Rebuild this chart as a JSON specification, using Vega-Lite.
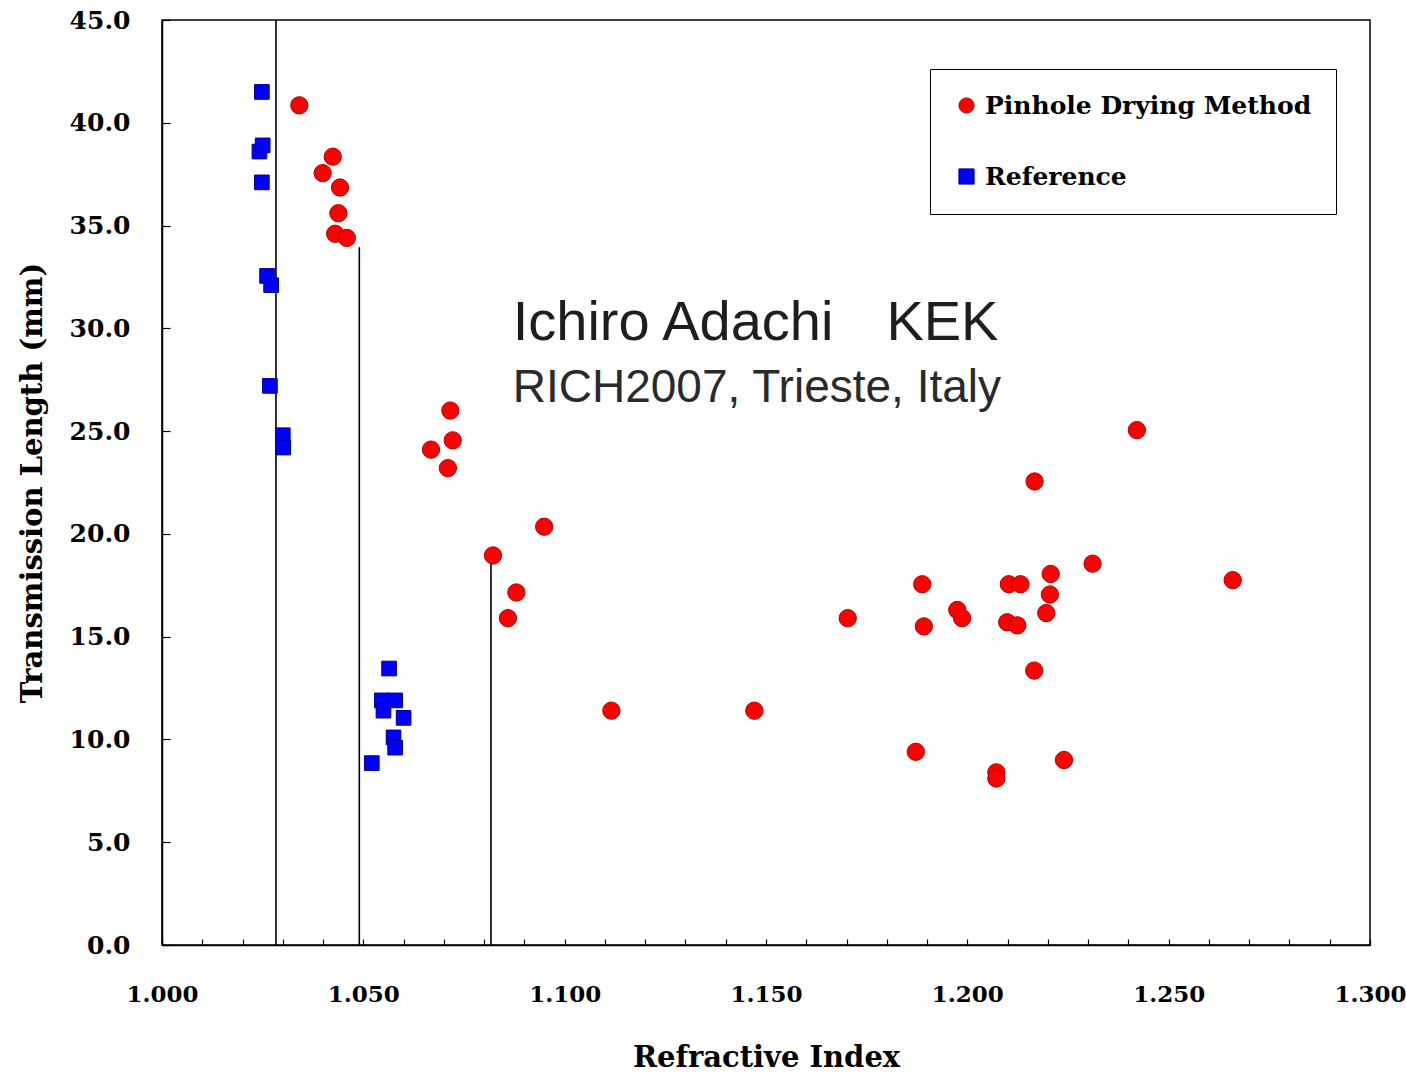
{
  "$schema": "https://vega.github.io/schema/vega-lite/v6.json",
  "width": 1208,
  "height": 925,
  "autosize": "none",
  "padding": {"left": 162, "top": 20, "right": 36, "bottom": 130},
  "background": "#ffffff",
  "config": {
    "view": {"stroke": "#000000", "strokeWidth": 1.5},
    "axis": {"grid": false, "domainColor": "#000000", "domainWidth": 1.5, "tickColor": "#000000", "tickWidth": 1.2, "labelColor": "#000000", "titleColor": "#000000", "labelFont": "DejaVu Serif", "labelFontWeight": "bold", "titleFont": "DejaVu Serif", "titleFontWeight": "bold"}
  },
  "datasets": {
    "points": [
      {"series": "Reference", "ri": 1.0248, "tl": 41.5},
      {"series": "Reference", "ri": 1.0242, "tl": 38.6},
      {"series": "Reference", "ri": 1.0250, "tl": 38.9},
      {"series": "Reference", "ri": 1.0248, "tl": 37.1},
      {"series": "Reference", "ri": 1.0261, "tl": 32.55},
      {"series": "Reference", "ri": 1.0271, "tl": 32.1},
      {"series": "Reference", "ri": 1.0268, "tl": 27.2},
      {"series": "Reference", "ri": 1.0300, "tl": 24.8},
      {"series": "Reference", "ri": 1.0301, "tl": 24.2},
      {"series": "Reference", "ri": 1.0564, "tl": 13.45},
      {"series": "Reference", "ri": 1.0546, "tl": 11.9},
      {"series": "Reference", "ri": 1.0579, "tl": 11.9},
      {"series": "Reference", "ri": 1.0550, "tl": 11.4},
      {"series": "Reference", "ri": 1.0600, "tl": 11.05},
      {"series": "Reference", "ri": 1.0575, "tl": 10.1},
      {"series": "Reference", "ri": 1.0579, "tl": 9.6},
      {"series": "Reference", "ri": 1.0521, "tl": 8.85},
      {"series": "Pinhole Drying Method", "ri": 1.0341, "tl": 40.85},
      {"series": "Pinhole Drying Method", "ri": 1.0424, "tl": 38.35},
      {"series": "Pinhole Drying Method", "ri": 1.0399, "tl": 37.55},
      {"series": "Pinhole Drying Method", "ri": 1.0442, "tl": 36.85},
      {"series": "Pinhole Drying Method", "ri": 1.0438, "tl": 35.6},
      {"series": "Pinhole Drying Method", "ri": 1.0430, "tl": 34.6},
      {"series": "Pinhole Drying Method", "ri": 1.0459, "tl": 34.4},
      {"series": "Pinhole Drying Method", "ri": 1.0716, "tl": 26.0},
      {"series": "Pinhole Drying Method", "ri": 1.0722, "tl": 24.55},
      {"series": "Pinhole Drying Method", "ri": 1.0668, "tl": 24.1},
      {"series": "Pinhole Drying Method", "ri": 1.0710, "tl": 23.2},
      {"series": "Pinhole Drying Method", "ri": 1.0949, "tl": 20.35},
      {"series": "Pinhole Drying Method", "ri": 1.0822, "tl": 18.95},
      {"series": "Pinhole Drying Method", "ri": 1.0880, "tl": 17.15},
      {"series": "Pinhole Drying Method", "ri": 1.0859, "tl": 15.9},
      {"series": "Pinhole Drying Method", "ri": 1.1116, "tl": 11.4},
      {"series": "Pinhole Drying Method", "ri": 1.1471, "tl": 11.4},
      {"series": "Pinhole Drying Method", "ri": 1.2421, "tl": 25.05},
      {"series": "Pinhole Drying Method", "ri": 1.2167, "tl": 22.55},
      {"series": "Pinhole Drying Method", "ri": 1.2311, "tl": 18.55},
      {"series": "Pinhole Drying Method", "ri": 1.2659, "tl": 17.75},
      {"series": "Pinhole Drying Method", "ri": 1.1888, "tl": 17.55},
      {"series": "Pinhole Drying Method", "ri": 1.2207, "tl": 18.05},
      {"series": "Pinhole Drying Method", "ri": 1.2103, "tl": 17.55},
      {"series": "Pinhole Drying Method", "ri": 1.2132, "tl": 17.55},
      {"series": "Pinhole Drying Method", "ri": 1.2205, "tl": 17.05},
      {"series": "Pinhole Drying Method", "ri": 1.1703, "tl": 15.9},
      {"series": "Pinhole Drying Method", "ri": 1.1892, "tl": 15.5},
      {"series": "Pinhole Drying Method", "ri": 1.1975, "tl": 16.3},
      {"series": "Pinhole Drying Method", "ri": 1.1987, "tl": 15.9},
      {"series": "Pinhole Drying Method", "ri": 1.2099, "tl": 15.7},
      {"series": "Pinhole Drying Method", "ri": 1.2124, "tl": 15.55},
      {"series": "Pinhole Drying Method", "ri": 1.2196, "tl": 16.15},
      {"series": "Pinhole Drying Method", "ri": 1.2166, "tl": 13.35},
      {"series": "Pinhole Drying Method", "ri": 1.1872, "tl": 9.4},
      {"series": "Pinhole Drying Method", "ri": 1.2072, "tl": 8.4},
      {"series": "Pinhole Drying Method", "ri": 1.2072, "tl": 8.1},
      {"series": "Pinhole Drying Method", "ri": 1.2240, "tl": 9.0}
    ]
  },
  "layer": [
    {
      "data": {"values": [
        {"ri": 1.0283, "top": 45},
        {"ri": 1.0490, "top": 33.95},
        {"ri": 1.0817, "top": 18.7}
      ]},
      "mark": {"type": "rule", "color": "#000000", "strokeWidth": 1.6},
      "encoding": {
        "x": {
          "field": "ri", "type": "quantitative",
          "scale": {"domain": [1.0, 1.3], "nice": false, "zero": false},
          "axis": {
            "title": "Refractive Index",
            "values": [1.0, 1.01, 1.02, 1.03, 1.04, 1.05, 1.06, 1.07, 1.08, 1.09, 1.1, 1.11, 1.12, 1.13, 1.14, 1.15, 1.16, 1.17, 1.18, 1.19, 1.2, 1.21, 1.22, 1.23, 1.24, 1.25, 1.26, 1.27, 1.28, 1.29, 1.3],
            "labelExpr": "round(datum.value*1000) % 50 == 0 ? format(datum.value, '.3f') : ''",
            "tickSize": -6,
            "labelFontSize": 23,
            "labelPadding": 44,
            "labelFlush": false,
            "labelOverlap": false,
            "titleFontSize": 29,
            "titlePadding": 37
          }
        },
        "y": {
          "field": "top", "type": "quantitative",
          "scale": {"domain": [0, 45], "nice": false},
          "axis": {
            "title": "Transmission Length (mm)",
            "values": [0, 5, 10, 15, 20, 25, 30, 35, 40, 45],
            "format": ".1f",
            "tickSize": -8,
            "labelFontSize": 25,
            "labelPadding": 40,
            "titleFontSize": 29,
            "titlePadding": 22
          }
        },
        "y2": {"datum": 0}
      }
    },
    {
      "data": {"name": "points"},
      "transform": [{"filter": "datum.series == 'Reference'"}],
      "mark": {"type": "point", "filled": true, "strokeWidth": 1, "opacity": 1, "size": 215},
      "encoding": {
        "x": {"field": "ri", "type": "quantitative"},
        "y": {"field": "tl", "type": "quantitative"},
        "color": {
          "field": "series", "type": "nominal",
          "scale": {"domain": ["Pinhole Drying Method", "Reference"], "range": ["#ff0000", "#0000ff"]},
          "legend": {
            "title": null,
            "orient": "none",
            "legendX": 768,
            "legendY": 49,
            "strokeColor": "#000000",
            "padding": 24,
            "rowPadding": 45,
            "labelFont": "DejaVu Serif",
            "labelFontWeight": "bold",
            "labelFontSize": 25,
            "labelColor": "#000000",
            "labelOffset": 6,
            "symbolSize": 230,
            "symbolStrokeWidth": 1,
            "labelLimit": 0
          }
        },
        "shape": {
          "field": "series", "type": "nominal",
          "scale": {"domain": ["Pinhole Drying Method", "Reference"], "range": ["circle", "square"]}
        },
        "stroke": {
          "field": "series", "type": "nominal",
          "scale": {"domain": ["Pinhole Drying Method", "Reference"], "range": ["#b80000", "#00008c"]}
        }
      }
    },
    {
      "data": {"name": "points"},
      "transform": [{"filter": "datum.series == 'Pinhole Drying Method'"}],
      "mark": {"type": "point", "filled": true, "strokeWidth": 1, "opacity": 1, "size": 300},
      "encoding": {
        "x": {"field": "ri", "type": "quantitative"},
        "y": {"field": "tl", "type": "quantitative"},
        "color": {"field": "series", "type": "nominal"},
        "shape": {"field": "series", "type": "nominal"},
        "stroke": {"field": "series", "type": "nominal"}
      }
    },
    {
      "data": {"values": [
        {"ri": 1.0871, "tl": 29.43, "label": "Ichiro Adachi"},
        {"ri": 1.1799, "tl": 29.43, "label": "KEK"}
      ]},
      "mark": {"type": "text", "align": "left", "baseline": "alphabetic", "font": "Liberation Sans", "fontSize": 56, "color": "#1e1e1e"},
      "encoding": {
        "x": {"field": "ri", "type": "quantitative"},
        "y": {"field": "tl", "type": "quantitative"},
        "text": {"field": "label"}
      }
    },
    {
      "data": {"values": [{"ri": 1.0871, "tl": 26.43, "label": "RICH2007, Trieste, Italy"}]},
      "mark": {"type": "text", "align": "left", "baseline": "alphabetic", "font": "Liberation Sans", "fontSize": 46, "color": "#2a2a2a"},
      "encoding": {
        "x": {"field": "ri", "type": "quantitative"},
        "y": {"field": "tl", "type": "quantitative"},
        "text": {"field": "label"}
      }
    }
  ]
}
